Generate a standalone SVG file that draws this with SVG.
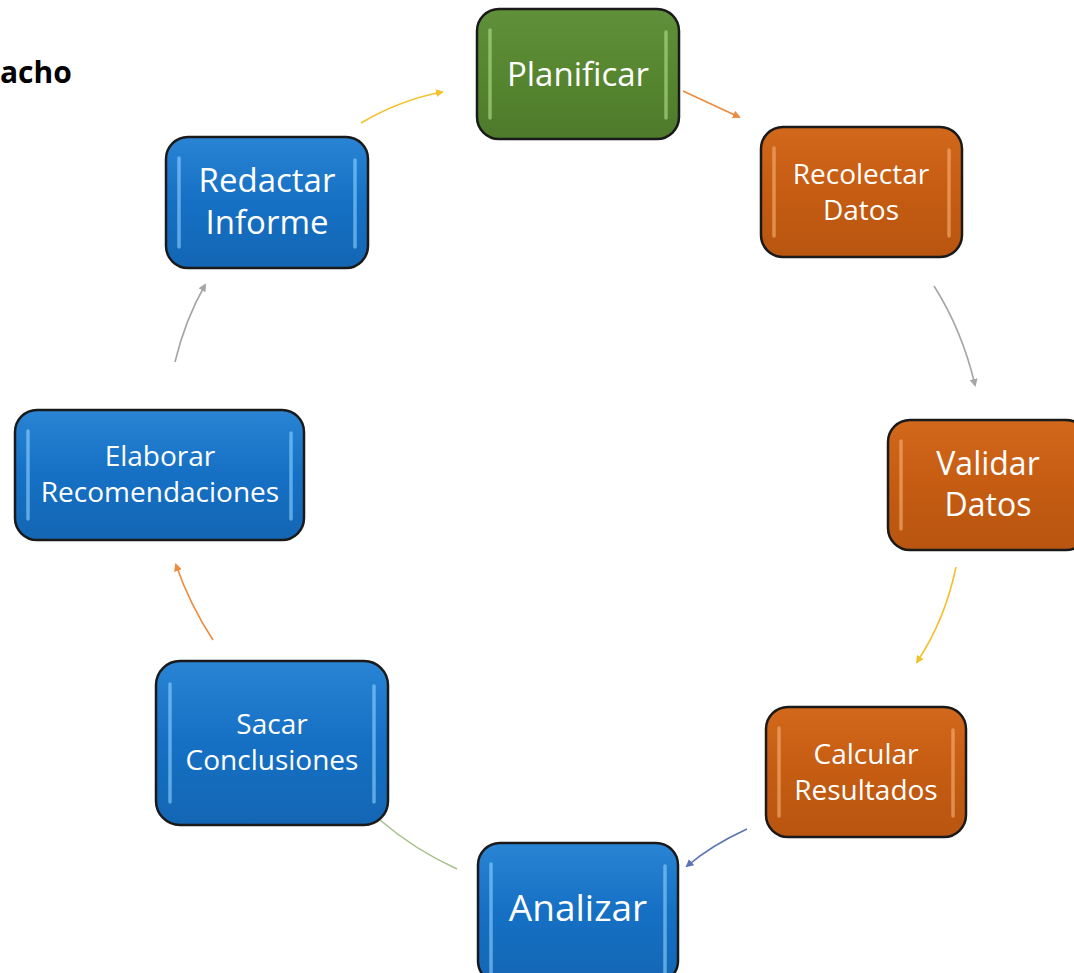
<svg xmlns="http://www.w3.org/2000/svg" width="1074" height="973" viewBox="0 0 1074 973">
<style>
.box{stroke:#1a1a1a;stroke-width:2.5}
.t{fill:#fff;font-family:"Open Sans","Liberation Sans",sans-serif;text-anchor:middle}
.hl{stroke-width:3.5;stroke-linecap:round;fill:none;opacity:0.6}
.c{fill:none;stroke-width:1.6}
</style>
<defs>
<linearGradient id="gB" x1="0" y1="0" x2="0" y2="1"><stop offset="0" stop-color="#2a84d4"/><stop offset="0.5" stop-color="#1570c4"/><stop offset="1" stop-color="#1466b4"/></linearGradient>
<linearGradient id="gO" x1="0" y1="0" x2="0" y2="1"><stop offset="0" stop-color="#d2681b"/><stop offset="0.5" stop-color="#c55c12"/><stop offset="1" stop-color="#b85510"/></linearGradient>
<linearGradient id="gG" x1="0" y1="0" x2="0" y2="1"><stop offset="0" stop-color="#60913a"/><stop offset="0.5" stop-color="#56862f"/><stop offset="1" stop-color="#4e7a2b"/></linearGradient>
<marker id="aY" markerWidth="8" markerHeight="8" refX="6" refY="4" orient="auto" markerUnits="userSpaceOnUse"><path d="M0,0 L8,4 L0,8 z" fill="#f2c12e"/></marker>
<marker id="aO" markerWidth="8" markerHeight="8" refX="6" refY="4" orient="auto" markerUnits="userSpaceOnUse"><path d="M0,0 L8,4 L0,8 z" fill="#ed8a3c"/></marker>
<marker id="aG" markerWidth="8" markerHeight="8" refX="6" refY="4" orient="auto" markerUnits="userSpaceOnUse"><path d="M0,0 L8,4 L0,8 z" fill="#a5a5a5"/></marker>
<marker id="aB" markerWidth="8" markerHeight="8" refX="6" refY="4" orient="auto" markerUnits="userSpaceOnUse"><path d="M0,0 L8,4 L0,8 z" fill="#5a74b4"/></marker>
</defs>
<rect width="1074" height="973" fill="#fff"/>
<text x="0" y="83" font-family="'Open Sans','Liberation Sans',sans-serif" font-weight="bold" font-size="30" fill="#000">acho</text>

<g id="connectors">
<path class="c" d="M361,123 Q400,100 442,92" stroke="#f2c12e" marker-end="url(#aY)"/>
<path class="c" d="M683,91 L739,117" stroke="#ed8a3c" marker-end="url(#aO)"/>
<path class="c" d="M934,286 Q962,330 975,385" stroke="#a5a5a5" marker-end="url(#aG)"/>
<path class="c" d="M956,567 Q945,620 917,662" stroke="#f2c12e" marker-end="url(#aY)"/>
<path class="c" d="M747,829 Q712,845 687,866" stroke="#5a74b4" marker-end="url(#aB)"/>
<path class="c" d="M457,869 Q415,850 380,820" stroke="#a9c18a"/>
<path class="c" d="M213,640 Q190,605 176,565" stroke="#ed8a3c" marker-end="url(#aO)"/>
<path class="c" d="M175,362 Q185,320 205,285" stroke="#a5a5a5" marker-end="url(#aG)"/>
</g>

<g id="planificar">
<rect class="box" x="477" y="9" width="202" height="130" rx="22" fill="url(#gG)"/>
<line class="hl" x1="490" y1="30" x2="490" y2="118" stroke="#b5e08a"/>
<line class="hl" x1="666" y1="32" x2="666" y2="118" stroke="#b5e08a"/>
<text class="t" x="578" y="86" font-size="33">Planificar</text>
</g>

<g id="recolectar">
<rect class="box" x="761" y="127" width="201" height="130" rx="22" fill="url(#gO)"/>
<line class="hl" x1="774" y1="148" x2="774" y2="236" stroke="#f7b27a"/>
<line class="hl" x1="949" y1="150" x2="949" y2="236" stroke="#f7b27a"/>
<text class="t" x="861" y="184" font-size="28">Recolectar</text>
<text class="t" x="861" y="220" font-size="28">Datos</text>
</g>

<g id="validar">
<rect class="box" x="888" y="420" width="200" height="130" rx="22" fill="url(#gO)"/>
<line class="hl" x1="901" y1="441" x2="901" y2="529" stroke="#f7b27a"/>
<text class="t" x="988" y="475" font-size="32">Validar</text>
<text class="t" x="988" y="516" font-size="32">Datos</text>
</g>

<g id="calcular">
<rect class="box" x="766" y="707" width="200" height="130" rx="22" fill="url(#gO)"/>
<line class="hl" x1="779" y1="728" x2="779" y2="816" stroke="#f7b27a"/>
<line class="hl" x1="953" y1="730" x2="953" y2="816" stroke="#f7b27a"/>
<text class="t" x="866" y="764" font-size="28">Calcular</text>
<text class="t" x="866" y="800" font-size="28">Resultados</text>
</g>

<g id="analizar">
<rect class="box" x="478" y="843" width="200" height="140" rx="22" fill="url(#gB)"/>
<line class="hl" x1="491" y1="864" x2="491" y2="973" stroke="#8fd3ff"/>
<line class="hl" x1="665" y1="866" x2="665" y2="973" stroke="#8fd3ff"/>
<text class="t" x="578" y="921" font-size="37">Analizar</text>
</g>

<g id="sacar">
<rect class="box" x="156" y="661" width="232" height="164" rx="24" fill="url(#gB)"/>
<line class="hl" x1="170" y1="684" x2="170" y2="802" stroke="#8fd3ff"/>
<line class="hl" x1="374" y1="686" x2="374" y2="802" stroke="#8fd3ff"/>
<text class="t" x="272" y="734" font-size="28">Sacar</text>
<text class="t" x="272" y="770" font-size="28">Conclusiones</text>
</g>

<g id="elaborar">
<rect class="box" x="15" y="410" width="289" height="130" rx="22" fill="url(#gB)"/>
<line class="hl" x1="28" y1="431" x2="28" y2="519" stroke="#8fd3ff"/>
<line class="hl" x1="291" y1="433" x2="291" y2="519" stroke="#8fd3ff"/>
<text class="t" x="160" y="466" font-size="28">Elaborar</text>
<text class="t" x="160" y="502" font-size="28">Recomendaciones</text>
</g>

<g id="redactar">
<rect class="box" x="166" y="137" width="202" height="131" rx="22" fill="url(#gB)"/>
<line class="hl" x1="179" y1="158" x2="179" y2="247" stroke="#8fd3ff"/>
<line class="hl" x1="355" y1="160" x2="355" y2="247" stroke="#8fd3ff"/>
<text class="t" x="267" y="192" font-size="33">Redactar</text>
<text class="t" x="267" y="234" font-size="33">Informe</text>
</g>
</svg>
